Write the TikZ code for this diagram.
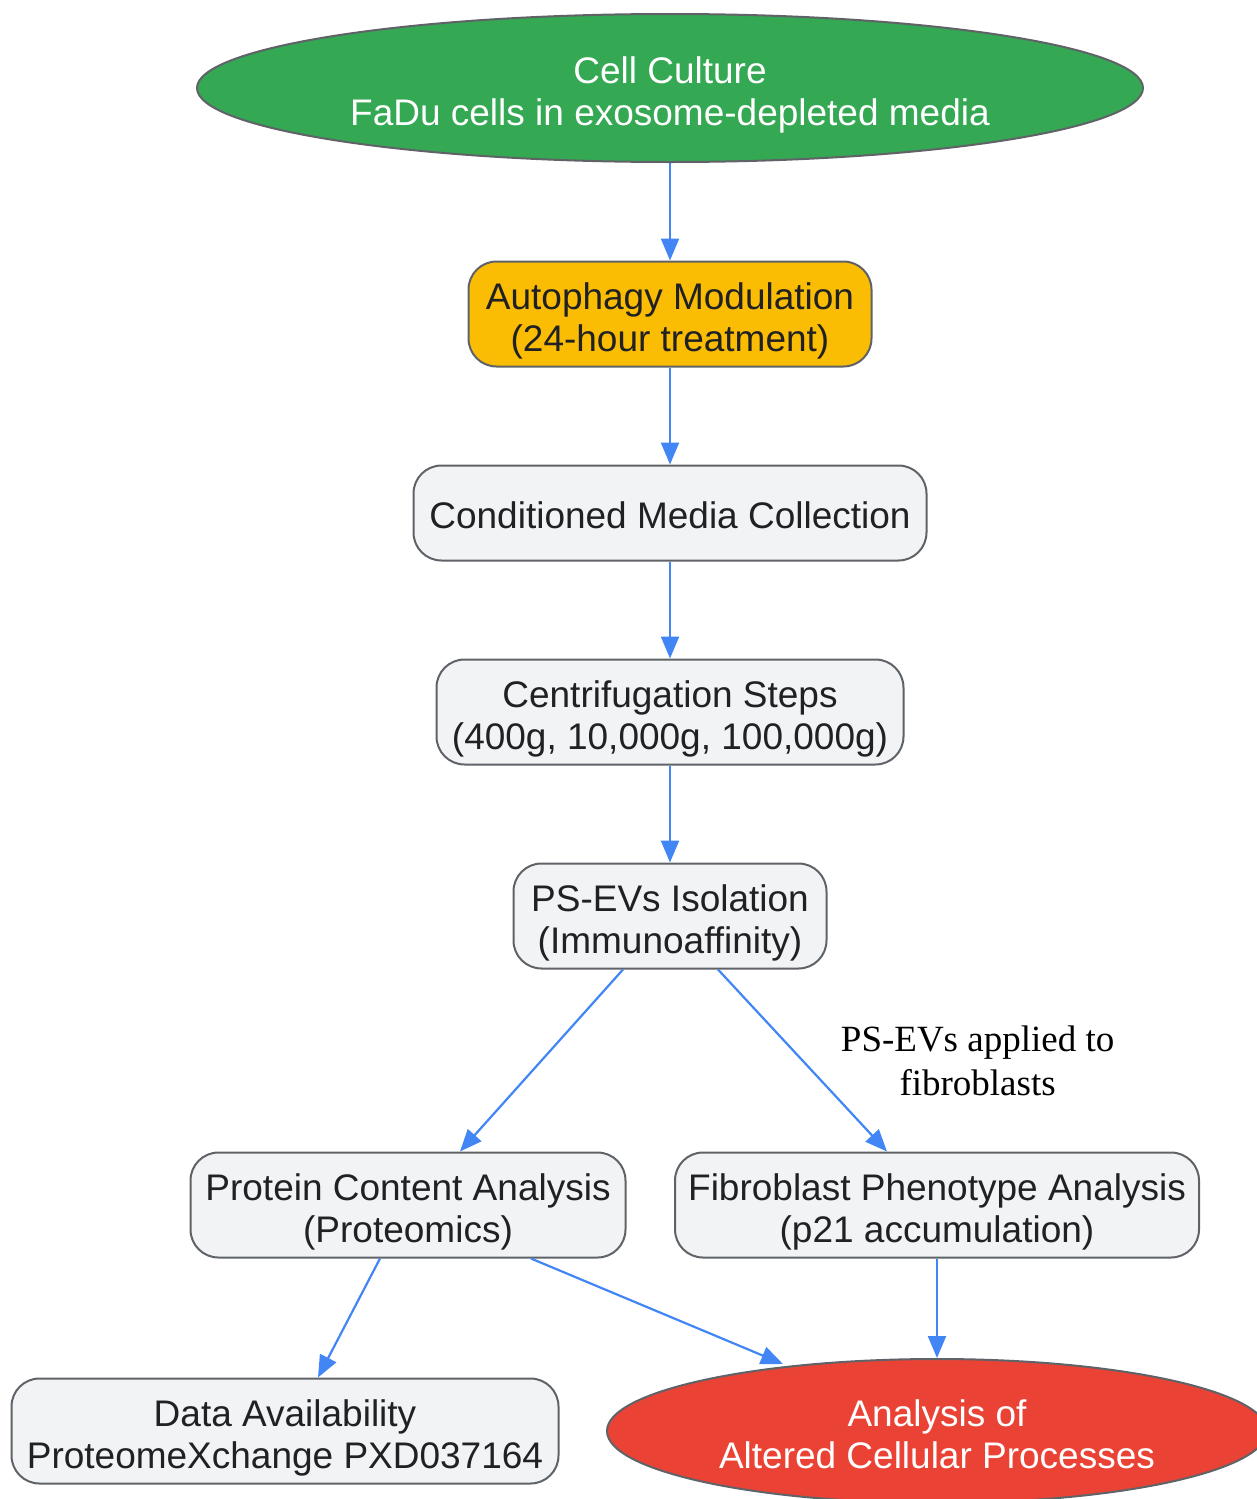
\documentclass[tikz,border=0pt]{standalone}
\usepackage{fontspec}
\setmainfont{Liberation Sans}
\newfontfamily\serifl{Liberation Serif}
\usetikzlibrary{arrows.meta,shapes.geometric}
\definecolor{gborder}{HTML}{5F6368}
\definecolor{gfill}{HTML}{F1F3F4}
\definecolor{gtext}{HTML}{202124}
\definecolor{ggreen}{HTML}{34A853}
\definecolor{gyellow}{HTML}{FBBC04}
\definecolor{gred}{HTML}{EA4335}
\definecolor{gblue}{HTML}{4285F4}
\begin{document}
\begin{tikzpicture}[x=1pt,y=-1pt,
  txt/.style={font=\fontsize{37}{42}\selectfont, align=center, text=gtext, text height=77pt, text depth=2pt},
  oneline/.style={text height=33pt, text depth=2pt},
  boxnode/.style={txt, draw=gborder, line width=2pt, fill=gfill, rounded corners=28pt, inner sep=0pt},
  ovalnode/.style={txt, ellipse, draw=gborder, line width=2pt, inner sep=0pt, text=white},
  conn/.style={draw=gblue, line width=2.2pt, -{Triangle[length=22pt,width=18pt]}}]
\useasboundingbox (0,0) rectangle (1257,1499);
\node[ovalnode, fill=ggreen, minimum width=946pt, minimum height=148pt] (cc) at (670,88) {Cell Culture\\FaDu cells in exosome-depleted media};
\node[boxnode, fill=gyellow, minimum width=403pt, minimum height=105pt] (am) at (670,314) {Autophagy Modulation\\(24-hour treatment)};
\node[boxnode, oneline, minimum width=513pt, minimum height=95pt] (cm) at (670,513) {Conditioned Media Collection};
\node[boxnode, minimum width=467pt, minimum height=105pt] (cs) at (670,712) {Centrifugation Steps\\(400g, 10,000g, 100,000g)};
\node[boxnode, minimum width=313pt, minimum height=105pt] (ps) at (670,916) {PS-EVs Isolation\\(Immunoaffinity)};
\node[boxnode, minimum width=435pt, minimum height=105pt] (pc) at (408,1205) {Protein Content Analysis\\(Proteomics)};
\node[boxnode, minimum width=524pt, minimum height=105pt] (fp) at (937,1205) {Fibroblast Phenotype Analysis\\(p21 accumulation)};
\node[boxnode, minimum width=547pt, minimum height=105pt] (da) at (285,1431) {Data Availability\\ProteomeXchange PXD037164};
\node[ovalnode, fill=gred, minimum width=660pt, minimum height=144pt] (an) at (937,1431) {Analysis of\\Altered Cellular Processes};
\draw[conn] (cc) -- (am);
\draw[conn] (am) -- (cm);
\draw[conn] (cm) -- (cs);
\draw[conn] (cs) -- (ps);
\draw[conn] ([xshift=-47pt]ps.south) -- ([xshift=52pt]pc.north);
\draw[conn] ([xshift=48pt]ps.south) -- node[pos=0.5, right=34pt, font=\serifl\fontsize{37}{44}\selectfont, align=center, text=black] (lbl) {PS-EVs applied to\\fibroblasts} ([xshift=-50pt]fp.north);
\draw[conn] ([xshift=-28pt]pc.south) -- ([xshift=33pt]da.north);
\draw[conn] ([xshift=123pt]pc.south) -- ([xshift=-154pt,yshift=-6pt]an.north);
\draw[conn] (fp) -- (an);
\end{tikzpicture}
\end{document}
